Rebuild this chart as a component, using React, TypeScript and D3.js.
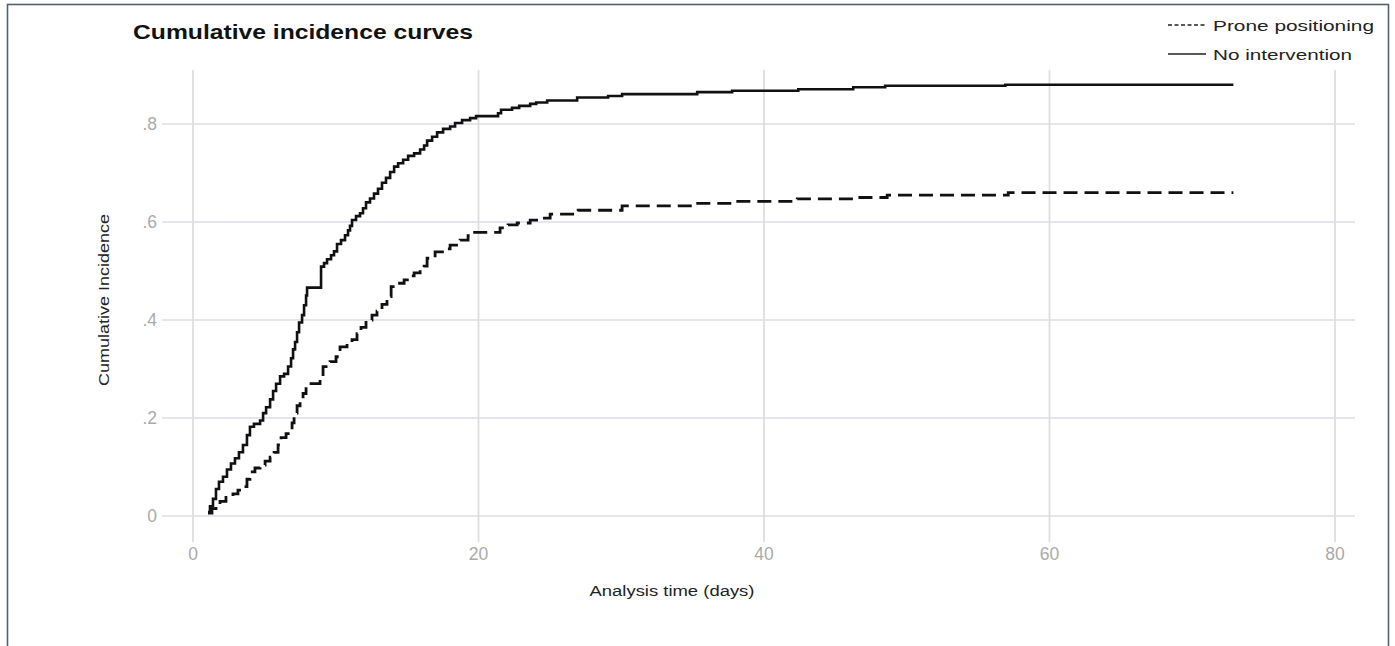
import React from "react";
import * as d3 from "d3";

// ---- Data ----
const xTicks = [0, 20, 40, 60, 80];
const yTicks = [0, 0.2, 0.4, 0.6, 0.8];
const yTickLabels = ["0", ".2", ".4", ".6", ".8"];

const noInterventionDays = [
  1.05, 1.19, 1.4, 1.61, 1.82, 2.1, 2.38, 2.66, 2.94, 3.22, 3.5, 3.78, 3.99, 4.27, 4.7, 4.91,
  5.12, 5.4, 5.61, 5.82, 6.1, 6.38, 6.66, 6.87, 7.01, 7.15, 7.29, 7.43, 7.64, 7.78, 7.92, 7.99,
  8.97, 9.18, 9.39, 9.67, 9.88, 10.09, 10.37, 10.65, 10.86, 11.0, 11.14, 11.42, 11.7, 11.91,
  12.12, 12.4, 12.68, 12.96, 13.24, 13.52, 13.81, 14.09, 14.37, 14.72, 15.07, 15.49, 15.91,
  16.19, 16.4, 16.75, 17.1, 17.52, 18.01, 18.36, 18.85, 19.41, 19.83, 21.37, 21.58, 22.35,
  22.85, 23.62, 24.04, 24.81, 26.91, 29.08, 30.06, 35.32, 37.77, 42.4, 46.25, 48.49, 56.9,
];
const noInterventionCI = [
  0.008, 0.02, 0.035, 0.055, 0.07, 0.08, 0.095, 0.107, 0.118, 0.13, 0.145, 0.165, 0.182, 0.188,
  0.195, 0.21, 0.222, 0.238, 0.255, 0.27, 0.285, 0.29, 0.305, 0.322, 0.34, 0.355, 0.375, 0.395,
  0.41, 0.43, 0.45, 0.466, 0.509, 0.516, 0.524, 0.532, 0.54, 0.555, 0.563, 0.573, 0.583, 0.592,
  0.604, 0.612, 0.618, 0.628, 0.64, 0.648, 0.658, 0.668, 0.68, 0.69, 0.702, 0.713, 0.72, 0.727,
  0.735, 0.74, 0.748, 0.756, 0.766, 0.774, 0.783, 0.79, 0.795, 0.802, 0.808, 0.812, 0.816,
  0.822, 0.829, 0.833, 0.837, 0.841, 0.844, 0.848, 0.854, 0.857, 0.861, 0.865, 0.868, 0.871,
  0.875, 0.878, 0.88,
];

const proneDays = [
  1.05, 1.33, 1.61, 1.89, 2.31, 2.8, 3.15, 3.57, 3.78, 3.99, 4.34, 4.7, 5.05, 5.4, 5.68, 5.96,
  6.17, 6.52, 6.8, 6.94, 7.08, 7.29, 7.5, 7.71, 7.92, 8.9, 9.11, 9.6, 10.02, 10.3, 10.79, 11.14,
  11.49, 11.77, 12.12, 12.54, 12.89, 13.24, 13.59, 13.88, 14.3, 14.79, 15.21, 15.49, 15.91,
  16.19, 16.4, 16.96, 17.73, 18.01, 18.71, 19.27, 19.62, 21.51, 22.07, 22.71, 23.62, 24.32,
  25.02, 26.98, 30.06, 35.04, 37.77, 42.33, 46.53, 48.63, 57.11,
];
const proneCI = [
  0.006, 0.015, 0.022, 0.03, 0.038, 0.045, 0.053, 0.06, 0.075, 0.09, 0.098, 0.104, 0.112, 0.12,
  0.13, 0.145, 0.16, 0.168, 0.175, 0.19, 0.21, 0.225, 0.235, 0.25, 0.27, 0.278, 0.305, 0.315,
  0.325, 0.345, 0.352, 0.36, 0.372, 0.385, 0.4, 0.41, 0.418, 0.432, 0.448, 0.468, 0.475, 0.482,
  0.49, 0.496, 0.502, 0.51, 0.526, 0.539, 0.545, 0.553, 0.563, 0.572, 0.579, 0.588, 0.594,
  0.598, 0.604, 0.608, 0.616, 0.624, 0.633, 0.638, 0.642, 0.647, 0.65, 0.655, 0.66,
];
const lastDay = 72.88;

const seriesNames = ["Prone positioning", "No intervention"];
const titleText = "Cumulative incidence curves";
const xAxisTitle = "Analysis time (days)";
const yAxisTitle = "Cumulative Incidence";

const FONT = "'Liberation Sans', Arial, sans-serif";

export default function App() {
  const W = 1395;
  const H = 646;
  const x = d3.scaleLinear().domain([0, 80]).range([193, 1335]);
  const y = d3.scaleLinear().domain([0, 0.8]).range([516, 124]);

  const toPts = (days: number[], vals: number[]) => {
    const pts = days.map((d, i) => [d, vals[i]] as [number, number]);
    pts.push([lastDay, vals[vals.length - 1]]);
    return pts;
  };
  const line = d3
    .line<[number, number]>()
    .x((d) => x(d[0]))
    .y((d) => y(d[1]))
    .curve(d3.curveStepAfter);

  const solidPath = line(toPts(noInterventionDays, noInterventionCI)) || "";
  const dashPath = line(toPts(proneDays, proneCI)) || "";

  return (
    <svg
      width={W}
      height={H}
      style={{ position: "absolute", left: 0, top: 0, display: "block", background: "#fff" }}
    >
      <rect x={0} y={0} width={W} height={H} fill="#fff" />
      {/* frame */}
      <rect x={7.5} y={4.5} width={1381} height={700} fill="none" stroke="#56606b" strokeWidth={1.6} />

      {/* horizontal grid */}
      {yTicks.map((t) => (
        <line key={"h" + t} x1={162} x2={1355} y1={y(t)} y2={y(t)} stroke="#dcdcec" strokeWidth={1.5} />
      ))}
      {/* vertical grid */}
      {xTicks.map((t) => (
        <line key={"v" + t} x1={x(t)} x2={x(t)} y1={70} y2={542} stroke="#dedede" strokeWidth={1.8} />
      ))}

      {/* y tick labels */}
      {yTicks.map((t, i) => (
        <text
          key={"yl" + t}
          x={157}
          y={y(t)}
          textAnchor="end"
          dominantBaseline="central"
          fontFamily={FONT}
          fontSize={17.5}
          fill="#aaaaaa"
        >
          {yTickLabels[i]}
        </text>
      ))}
      {/* x tick labels */}
      {xTicks.map((t) => (
        <text
          key={"xl" + t}
          x={x(t)}
          y={554}
          textAnchor="middle"
          dominantBaseline="central"
          fontFamily={FONT}
          fontSize={17.5}
          fill="#aaaaaa"
        >
          {t}
        </text>
      ))}

      {/* curves */}
      <path d={dashPath} fill="none" stroke="#111" strokeWidth={2.8} strokeDasharray="14,7" />
      <path d={solidPath} fill="none" stroke="#111" strokeWidth={2.6} />

      {/* title */}
      <text x={133} y={39} fontFamily={FONT} fontWeight="bold" fontSize={20.5} fill="#111" textLength={340} lengthAdjust="spacingAndGlyphs">
        {titleText}
      </text>

      {/* axis titles */}
      <text
        x={672}
        y={596}
        textAnchor="middle"
        fontFamily={FONT}
        fontSize={15.5}
        fill="#222"
        textLength={165}
        lengthAdjust="spacingAndGlyphs"
      >
        {xAxisTitle}
      </text>
      <text
        transform="translate(109,300) rotate(-90)"
        textAnchor="middle"
        fontFamily={FONT}
        fontSize={15.5}
        fill="#222"
        textLength={172}
        lengthAdjust="spacingAndGlyphs"
      >
        {yAxisTitle}
      </text>

      {/* legend */}
      <line x1={1168} x2={1206} y1={25} y2={25} stroke="#222" strokeWidth={1.3} strokeDasharray="4,2.5" />
      <text x={1213} y={25} dominantBaseline="central" fontFamily={FONT} fontSize={15.5} fill="#222" textLength={161} lengthAdjust="spacingAndGlyphs">
        {seriesNames[0]}
      </text>
      <line x1={1168} x2={1206} y1={54} y2={54} stroke="#222" strokeWidth={1.3} />
      <text x={1213} y={54} dominantBaseline="central" fontFamily={FONT} fontSize={15.5} fill="#222" textLength={139} lengthAdjust="spacingAndGlyphs">
        {seriesNames[1]}
      </text>
    </svg>
  );
}
